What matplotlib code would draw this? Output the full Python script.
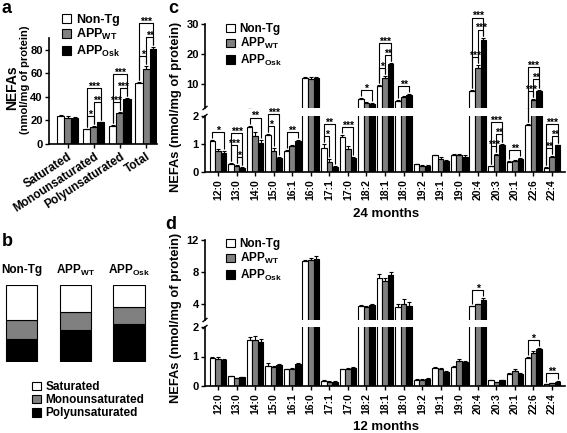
import matplotlib
matplotlib.use('Agg')
import matplotlib.pyplot as plt
import numpy as np
from matplotlib.lines import Line2D
from matplotlib.transforms import IdentityTransform, blended_transform_factory

# ---------------- data ----------------
group_labels = ['Non-Tg', 'APP$_{WT}$', 'APP$_{Osk}$']
bar_colors = ['white', '#808080', 'black']

a_categories = ['Saturated', 'Monounsaturated', 'Polyunsaturated', 'Total']
a_nontg = [23.5, 12.5, 15.5, 51.5]
a_wt = [22.5, 14.5, 26.5, 63.5]
a_osk = [22.5, 18.5, 38.5, 80.5]
a_nontg_err = [0.7, 0.5, 0.5, 1.5]
a_wt_err = [1.2, 1.0, 1.0, 2.5]
a_osk_err = [0.8, 0.5, 0.8, 1.5]
a_sig = [(1, 0, 1, '*'), (1, 1, 2, '**'), (1, 0, 2, '***'),
         (2, 0, 1, '***'), (2, 1, 2, '***'), (2, 0, 2, '***'),
         (3, 0, 1, '*'), (3, 1, 2, '**'), (3, 0, 2, '***')]

b_classes = ['Saturated', 'Monounsaturated', 'Polyunsaturated']
b_saturated = [46, 35, 28]
b_mono = [24, 23, 23]
b_poly = [30, 42, 49]

fatty_acids = ['12:0', '13:0', '14:0', '15:0', '16:1', '16:0', '17:1', '17:0', '18:2',
               '18:1', '18:0', '19:2', '19:1', '19:0', '20:4', '20:3', '20:1', '22:6', '22:4']

c_nontg = [1.10, 0.30, 1.62, 1.32, 0.75, 12.05, 0.87, 1.26, 4.9, 9.3, 4.5, 0.28, 0.59, 0.62, 7.6, 0.20, 0.36, 1.68, 0.16]
c_wt = [0.75, 0.22, 1.28, 0.74, 0.92, 11.8, 0.34, 0.81, 3.7, 12.1, 5.7, 0.23, 0.48, 0.60, 15.5, 0.60, 0.40, 4.6, 0.52]
c_osk = [0.68, 0.16, 1.04, 0.51, 1.09, 12.1, 0.18, 0.51, 3.5, 16.7, 6.4, 0.22, 0.40, 0.54, 24.8, 0.95, 0.47, 7.6, 0.95]
c_nontg_err = [0.03, 0.02, 0.04, 0.04, 0.02, 0.4, 0.12, 0.06, 0.3, 0.4, 0.2, 0.02, 0.03, 0.03, 0.3, 0.02, 0.02, 0.03, 0.01]
c_wt_err = [0.08, 0.02, 0.15, 0.12, 0.04, 0.4, 0.12, 0.12, 0.2, 0.5, 0.3, 0.03, 0.04, 0.05, 0.8, 0.04, 0.03, 0.3, 0.04]
c_osk_err = [0.07, 0.02, 0.10, 0.03, 0.06, 0.3, 0.02, 0.03, 0.2, 0.3, 0.3, 0.03, 0.03, 0.06, 0.7, 0.04, 0.02, 0.3, 0.03]
c_sig = [(0, 0, 2, '*'),
         (1, 1, 2, '*'), (1, 0, 1, '***'), (1, 0, 2, '***'),
         (2, 0, 2, '**'),
         (3, 0, 1, '*'), (3, 0, 2, '***'),
         (4, 0, 2, '**'),
         (6, 0, 1, '*'), (6, 0, 2, '**'),
         (7, 0, 2, '***'),
         (8, 0, 2, '*'),
         (9, 0, 1, '*'), (9, 1, 2, '**'), (9, 0, 2, '***'),
         (10, 0, 2, '**'),
         (14, 0, 1, '***'), (14, 1, 2, '***'), (14, 0, 2, '***'),
         (15, 0, 1, '***'), (15, 1, 2, '**'), (15, 0, 2, '***'),
         (16, 0, 2, '**'),
         (17, 0, 1, '***'), (17, 1, 2, '**'), (17, 0, 2, '***'),
         (18, 0, 1, '**'), (18, 1, 2, '**'), (18, 0, 2, '***')]

d_nontg = [0.94, 0.33, 1.57, 0.69, 0.57, 9.36, 0.17, 0.57, 3.75, 7.3, 3.6, 0.22, 0.62, 0.64, 3.7, 0.19, 0.41, 0.94, 0.07]
d_wt = [0.93, 0.26, 1.55, 0.65, 0.57, 9.44, 0.14, 0.58, 3.63, 6.9, 4.0, 0.22, 0.56, 0.85, 3.96, 0.14, 0.50, 1.13, 0.09]
d_osk = [0.88, 0.29, 1.49, 0.72, 0.74, 9.65, 0.14, 0.62, 3.84, 7.6, 3.8, 0.24, 0.47, 0.80, 4.5, 0.19, 0.42, 1.25, 0.14]
d_nontg_err = [0.03, 0.02, 0.08, 0.09, 0.02, 0.2, 0.02, 0.02, 0.1, 0.4, 0.4, 0.01, 0.02, 0.04, 0.1, 0.01, 0.02, 0.04, 0.01]
d_wt_err = [0.07, 0.02, 0.15, 0.02, 0.04, 0.3, 0.02, 0.02, 0.1, 0.3, 0.6, 0.01, 0.05, 0.05, 0.1, 0.01, 0.07, 0.04, 0.01]
d_osk_err = [0.04, 0.02, 0.09, 0.03, 0.05, 0.4, 0.02, 0.03, 0.1, 0.4, 0.5, 0.02, 0.03, 0.06, 0.2, 0.01, 0.02, 0.05, 0.02]
d_sig = [(14, 0, 2, '*'), (17, 0, 2, '*'), (18, 0, 2, '**')]

# ---------------- style ----------------
plt.rcParams.update({
    'font.family': ['Liberation Sans', 'DejaVu Sans'],
    'font.weight': 'bold',
    'mathtext.fontset': 'custom',
    'mathtext.rm': 'Liberation Sans:bold',
    'mathtext.bf': 'Liberation Sans:bold',
    'mathtext.it': 'Liberation Sans:bold:italic',
    'mathtext.default': 'rm',
    'axes.linewidth': 1.2,
    'xtick.major.width': 1.0, 'ytick.major.width': 1.0,
    'xtick.major.size': 3, 'ytick.major.size': 3,
    'xtick.major.pad': 2, 'ytick.major.pad': 1.5,
})

W, H = 567, 433
fig = plt.figure(figsize=(W / 100, H / 100), dpi=100)


def rect(x0, y0, x1, y1):
    return [x0 / W, 1 - y1 / H, (x1 - x0) / W, (y1 - y0) / H]


def add_line(xs, ys, lw=0.8):
    fig.add_artist(Line2D(xs, ys, transform=IdentityTransform(), color='black',
                          lw=lw, solid_capstyle='butt'))


def draw_brackets(sig, xpos, top_disp, pad, step, fs):
    placed = {}
    for g, i, j, lab in sig:
        ti, tj = top_disp(g, i), top_disp(g, j)
        y = max(top_disp(g, k) for k in range(i, j + 1)) + pad
        for yy, ii, jj in placed.get(g, []):
            if not (j < ii or i > jj):
                y = max(y, yy + step)
        placed.setdefault(g, []).append((y, i, j))
        xi, xj = xpos(g, i), xpos(g, j)
        add_line([xi, xi, xj, xj], [ti + 2, y, y, tj + 2])
        fig.text((xi + xj) / 2 / W, (y - 1.8) / H, lab, ha='center', va='baseline', fontsize=fs)


def draw_bars(ax, x, series, errs, bw):
    conts = []
    for k, (vals, er) in enumerate(zip(series, errs)):
        pos = x + (k - 1) * bw
        c = ax.bar(pos, vals, bw, color=bar_colors[k], edgecolor='black', linewidth=0.8, zorder=2)
        ax.errorbar(pos, vals, yerr=[np.zeros(len(vals)), er], fmt='none', ecolor='black',
                    elinewidth=0.8, capsize=1.5, capthick=0.8, zorder=3)
        conts.append(c)
    return conts


LEG = dict(frameon=False, handlelength=0.75, handleheight=0.75, handletextpad=0.4,
           labelspacing=0.1, borderpad=0, borderaxespad=0)

# ---------------- panel a ----------------
ax_a = fig.add_axes(rect(49, 38, 157, 144))
xa = np.arange(len(a_categories))
bwa = 0.27
a_series = [a_nontg, a_wt, a_osk]
a_errs = [a_nontg_err, a_wt_err, a_osk_err]
conts_a = draw_bars(ax_a, xa, a_series, a_errs, bwa)
ax_a.set_xlim(-0.72, 3.42)
ax_a.set_ylim(0, 90)
ax_a.set_yticks([0, 20, 40, 60, 80])
ax_a.tick_params(axis='y', labelsize=8)
ax_a.set_xticks(xa)
ax_a.set_xticklabels(a_categories, rotation=33, ha='right', rotation_mode='anchor', fontsize=8.5)
for s in ('top', 'right'):
    ax_a.spines[s].set_visible(False)
ax_a.legend(conts_a, group_labels, loc='upper left', bbox_to_anchor=(62 / W, 1 - 14 / H),
            bbox_transform=fig.transFigure, fontsize=9, **LEG)
fig.text(12 / W, 1 - 88 / H, 'NEFAs', rotation=90, ha='center', va='center', fontsize=10)
fig.text(25 / W, 1 - 80 / H, '(nmol/mg of protein)', rotation=90, ha='center', va='center', fontsize=8)

draw_brackets(a_sig,
              lambda g, k: ax_a.transData.transform((g + (k - 1) * bwa, 0))[0],
              lambda g, k: ax_a.transData.transform((0, a_series[k][g] + a_errs[k][g]))[1],
              pad=10, step=14, fs=7.5)

# ---------------- panel b ----------------
ax_b = fig.add_axes(rect(0, 285, 150, 362))
xb = np.arange(3)
bwb = 0.58
p1 = ax_b.bar(xb, b_poly, bwb, color='black', edgecolor='black', linewidth=0.8)
p2 = ax_b.bar(xb, b_mono, bwb, bottom=b_poly, color='#808080', edgecolor='black', linewidth=0.8)
p3 = ax_b.bar(xb, b_saturated, bwb, bottom=np.array(b_poly) + np.array(b_mono),
              color='white', edgecolor='black', linewidth=0.8)
ax_b.set_xlim(-0.4, 2.39)
ax_b.set_ylim(0, 100)
ax_b.axis('off')
tb = blended_transform_factory(ax_b.transData, ax_b.transAxes)
for i, lab in enumerate(group_labels):
    ax_b.text(i, 1.19, lab, transform=tb, ha='center', va='center', fontsize=8.5)
fig.legend([p3, p2, p1], b_classes, loc='upper left', bbox_to_anchor=(32 / W, 1 - 381 / H),
           fontsize=8.5, **LEG)

# ---------------- panels c and d (broken axes) ----------------
xc = np.arange(len(fatty_acids))
bwc = 0.3


def broken_panel(top_px, split_hi, split_lo, bottom_px, hi_lim, hi_ticks, series, errs, sig):
    ax_hi = fig.add_axes(rect(205, top_px, 565, split_hi))
    ax_lo = fig.add_axes(rect(205, split_lo, 565, bottom_px))
    conts = None
    for ax in (ax_hi, ax_lo):
        cc = draw_bars(ax, xc, series, errs, bwc)
        if conts is None:
            conts = cc
        ax.set_xlim(-0.7, 18.7)
        for s in ('top', 'right'):
            ax.spines[s].set_visible(False)
        ax.tick_params(axis='y', labelsize=8)
    ax_hi.set_ylim(*hi_lim)
    ax_hi.set_yticks(hi_ticks)
    ax_hi.spines['bottom'].set_visible(False)
    ax_hi.tick_params(axis='x', bottom=False, labelbottom=False)
    ax_lo.set_ylim(0, 2)
    ax_lo.set_yticks([0, 1, 2])
    ax_lo.set_xticks(xc)
    ax_lo.set_xticklabels(fatty_acids, rotation=90, fontsize=7.5)
    # break marks on the y axis
    xs = ax_lo.transAxes.transform((0, 0))[0]
    yb_hi = ax_hi.transAxes.transform((0, 0))[1]
    yt_lo = ax_lo.transAxes.transform((0, 1))[1]
    add_line([xs - 2.5, xs + 2.5], [yb_hi - 2, yb_hi + 2], lw=1.0)
    add_line([xs - 2.5, xs + 2.5], [yt_lo - 2, yt_lo + 2], lw=1.0)

    def top_disp(g, k):
        v = series[k][g] + errs[k][g]
        ax = ax_lo if v <= 2 else ax_hi
        return ax.transData.transform((0, v))[1]

    draw_brackets(sig, lambda g, k: ax_lo.transData.transform((g + (k - 1) * bwc, 0))[0],
                  top_disp, pad=8, step=12, fs=7.5)
    return ax_hi, ax_lo, conts


c_hi, c_lo, conts_c = broken_panel(24, 108, 116, 172, (2, 30), [10, 20, 30],
                                   [c_nontg, c_wt, c_osk], [c_nontg_err, c_wt_err, c_osk_err], c_sig)
c_hi.legend(conts_c, group_labels, loc='upper left', bbox_to_anchor=(226 / W, 1 - 23 / H),
            bbox_transform=fig.transFigure, fontsize=8.5, **LEG)

d_hi, d_lo, conts_d = broken_panel(240, 320, 327, 386, (2, 12), [4, 8, 12],
                                   [d_nontg, d_wt, d_osk], [d_nontg_err, d_wt_err, d_osk_err], d_sig)
d_hi.legend(conts_d, group_labels, loc='upper left', bbox_to_anchor=(226 / W, 1 - 238 / H),
            bbox_transform=fig.transFigure, fontsize=8.5, **LEG)

fig.text(176 / W, 1 - 107 / H, 'NEFAs (nmol/mg of protein)', rotation=90, ha='center', va='center', fontsize=9.3)
fig.text(176 / W, 1 - 318 / H, 'NEFAs (nmol/mg of protein)', rotation=90, ha='center', va='center', fontsize=9.3)
fig.text(386 / W, 1 - 214 / H, '24 months', ha='center', va='center', fontsize=9.5)
fig.text(386 / W, 1 - 427 / H, '12 months', ha='center', va='center', fontsize=9.5)

# panel letters
for lab, (px, py) in {'a': (2, 0), 'b': (2, 233), 'c': (168, 0), 'd': (165, 216)}.items():
    fig.text(px / W, 1 - py / H, lab, ha='left', va='top', fontsize=13)

fig.savefig('out.png', dpi=100)
